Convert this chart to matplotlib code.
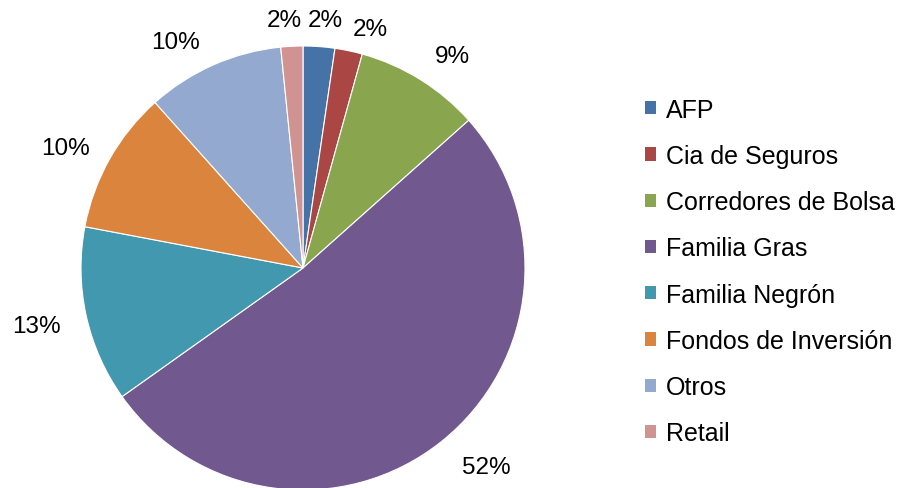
import matplotlib
matplotlib.use("Agg")
import matplotlib.pyplot as plt
import numpy as np

plt.rcParams['font.family'] = ['Liberation Sans', 'DejaVu Sans']

# participación accionaria
categorias = ["AFP", "Cia de Seguros", "Corredores de Bolsa", "Familia Gras",
              "Familia Negrón", "Fondos de Inversión", "Otros", "Retail"]
valores = [2.3, 2.0, 9.1, 51.7, 12.8, 10.4, 10.0, 1.6]
colores = ["#4572A7", "#AA4643", "#89A54E", "#71588F",
           "#4198AF", "#DB843D", "#93A9CF", "#D19392"]
# ubicación de las etiquetas: distancia radial y desvío angular (grados, horario)
dist_etiquetas = [1.12, 1.12, 1.17, 1.22, 1.23, 1.2, 1.17, 1.12]
desvio_etiquetas = [1.0, 3.8, 3.3, -4.1, 0.0, -2.7, -5.6, -1.5]

fig = plt.figure(figsize=(9.11, 4.89), dpi=100)
# centro ~ (303, 269) px, radio ~222 px
ax = fig.add_axes([(303 - 222) / 911, (489 - 269 - 222) / 489, 444 / 911, 444 / 489])

wedges, texts, autotexts = ax.pie(
    valores, colors=colores, startangle=90, counterclock=False,
    autopct='%.0f%%', pctdistance=1.19,
    wedgeprops=dict(edgecolor="white", linewidth=0.8),
    textprops=dict(fontsize=17.5, color="black"))
for w, t, d, a in zip(wedges, autotexts, dist_etiquetas, desvio_etiquetas):
    ang = np.deg2rad((w.theta1 + w.theta2) / 2 - a)
    t.set_position((d * np.cos(ang), d * np.sin(ang)))
ax.set_xlim(-1, 1)
ax.set_ylim(-1, 1)
ax.set_aspect('equal')

leg = fig.legend(wedges, categorias, loc='center left',
                 bbox_to_anchor=(645 / 911, 1 - 272.5 / 489),
                 frameon=False, fontsize=18, borderpad=0, borderaxespad=0,
                 handlelength=0.45, handleheight=0.45, handletextpad=0.38,
                 labelspacing=0.89)
for h in leg.legend_handles:
    h.set_edgecolor("none")

fig.savefig("out.png", dpi=100)
